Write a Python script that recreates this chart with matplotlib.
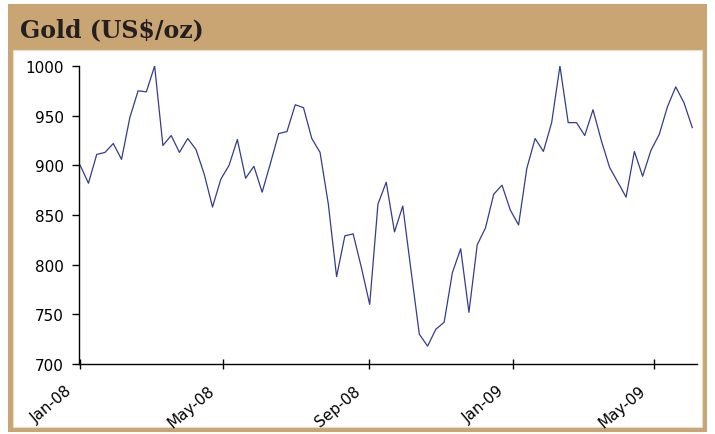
import matplotlib
matplotlib.use('Agg')
import matplotlib.pyplot as plt
import matplotlib.dates as mdates
from matplotlib.patches import Rectangle
from matplotlib.transforms import ScaledTranslation
import numpy as np

# weekly gold price, US$/oz
start = np.datetime64('2008-01-01')
prices = [900, 882, 911, 913, 922, 906, 948, 975, 974, 1000,
          920, 930, 913, 927, 916, 891, 858, 886, 900, 926,
          887, 899, 873, 902, 932, 934, 961, 958, 927, 913,
          861, 788, 829, 831, 797, 760, 861, 883, 833, 859,
          794, 730, 718, 735, 742, 792, 816, 752, 820, 837,
          871, 880, 855, 840, 897, 927, 914, 943, 1000, 943,
          943, 930, 956, 925, 898, 883, 868, 914, 889, 915,
          931, 959, 979, 963, 938]
dates = start + np.arange(len(prices)) * np.timedelta64(7, 'D')
dates = dates.astype('datetime64[D]').astype(object)

tan = '#C9A573'
W, H = 715, 435

fig = plt.figure(figsize=(W / 100, H / 100), dpi=100, facecolor='white')

# frame: tan box with a title band and white inner panel
fig.patches.append(Rectangle((8 / W, 1 - 433 / H), 699 / W, 428 / H,
                             transform=fig.transFigure, facecolor=tan,
                             edgecolor='none', zorder=0))
fig.patches.append(Rectangle((13 / W, 1 - 428 / H), 689 / W, 377 / H,
                             transform=fig.transFigure, facecolor='white',
                             edgecolor='#EBDCC3', linewidth=0.8, zorder=1))
fig.text(20 / W, 1 - 30 / H, 'Gold (US$/oz)', family='DejaVu Serif',
         fontweight='bold', fontsize=17, color='#231F20', va='center',
         ha='left')

ax = fig.add_axes([79 / W, 1 - 365 / H, (697 - 79) / W, (365 - 67) / H])
ax.set_zorder(5)
ax.set_facecolor('none')
ax.plot(dates, prices, color='#353C8C', linewidth=0.9)

ax.set_ylim(700, 1000)
ax.set_yticks(range(700, 1001, 50))
ax.set_xlim(np.datetime64('2007-12-31').astype(object),
            np.datetime64('2009-06-06').astype(object))
ax.xaxis.set_major_locator(mdates.MonthLocator(bymonth=[1, 5, 9]))
ax.xaxis.set_major_formatter(mdates.DateFormatter('%b-%y'))

for s in ['top', 'right']:
    ax.spines[s].set_visible(False)
for s in ['left', 'bottom']:
    ax.spines[s].set_linewidth(1.0)
    ax.spines[s].set_color('black')

ax.tick_params(axis='y', direction='out', length=5, width=1, pad=6,
               labelsize=11)
ax.tick_params(axis='x', direction='inout', length=7, width=1, pad=10,
               labelsize=11)
shift = ScaledTranslation(-11 / 72, 0, fig.dpi_scale_trans)
for lbl in ax.get_xticklabels():
    lbl.set_rotation(40)
    lbl.set_ha('right')
    lbl.set_rotation_mode('anchor')
    lbl.set_transform(lbl.get_transform() + shift)

fig.savefig('out.png', dpi=100, facecolor='white')
